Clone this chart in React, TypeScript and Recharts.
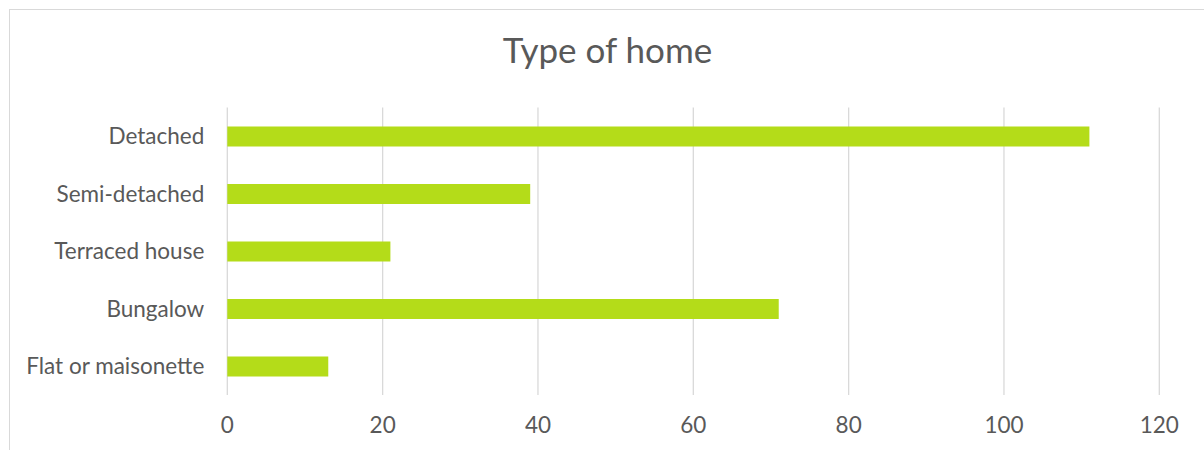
import React from 'react';
import { BarChart, Bar, XAxis, YAxis, CartesianGrid } from 'recharts';

const categories = ['Detached', 'Semi-detached', 'Terraced house', 'Bungalow', 'Flat or maisonette'];
const counts = [111, 39, 21, 71, 13];
const xTicks = [0, 20, 40, 60, 80, 100, 120];
const title = 'Type of home';

const data = categories.map((name, i) => ({ name, value: counts[i] }));

const W = 1204;
const H = 450;
const FONT = 'Lato, Carlito, Calibri, sans-serif';
const TEXT = '#595959';

export default function App() {
  return (
    <div style={{ position: 'relative', width: W, height: H, overflow: 'hidden', background: '#fff' }}>
      <style>{'html,body{margin:0;padding:0;overflow:hidden;}'}</style>
      <div
        style={{
          position: 'absolute',
          left: 9,
          top: 9,
          width: W,
          height: H,
          borderLeft: '1px solid #D9D9D9',
          borderTop: '1px solid #D9D9D9',
        }}
      />
      <div style={{ position: 'absolute', left: 0, top: 0 }}>
        <BarChart
          width={W}
          height={H}
          data={data}
          layout="vertical"
          margin={{ top: 107.5, right: 44.7, bottom: 25, left: 0 }}
        >
          <CartesianGrid horizontal={false} vertical={true} stroke="#D9D9D9" strokeWidth={1.3} />
          <XAxis
            type="number"
            domain={[0, 120]}
            ticks={xTicks}
            interval={0}
            axisLine={false}
            tickLine={false}
            tickSize={0}
            tickMargin={22.5}
            height={30}
            tick={{ fill: TEXT, fontSize: 22.5, fontFamily: FONT }}
          />
          <YAxis
            type="category"
            dataKey="name"
            width={227.3}
            axisLine={false}
            tickLine={false}
            tickSize={0}
            tickMargin={23}
            interval={0}
            tick={{ fill: TEXT, fontSize: 22.5, fontFamily: FONT }}
          />
          <Bar dataKey="value" fill="#B4DC19" barSize={20} isAnimationActive={false} />
        </BarChart>
      </div>
      <svg
        width={W}
        height={100}
        style={{ position: 'absolute', left: 0, top: 0, pointerEvents: 'none' }}
      >
        <text x={607.5} y={63} textAnchor="middle" fill={TEXT} fontSize={35} fontFamily={FONT}>
          {title}
        </text>
      </svg>
    </div>
  );
}
